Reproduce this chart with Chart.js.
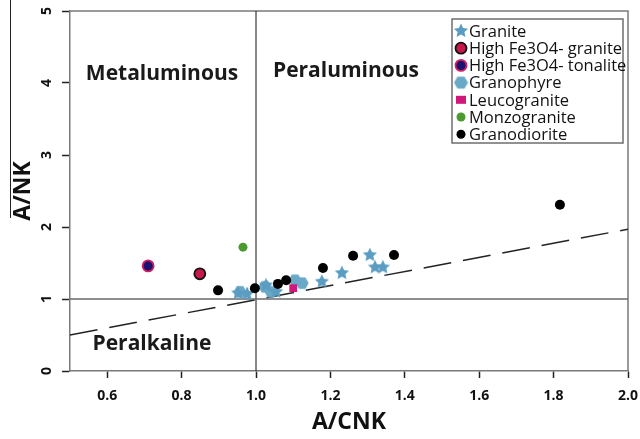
<!DOCTYPE html>
<html><head><meta charset="utf-8">
<script src="https://cdn.jsdelivr.net/npm/chart.js@4.4.1/dist/chart.umd.min.js"></script>
<style>html,body{margin:0;padding:0;background:#fff}#wrap{width:640px;height:439px}</style>
</head><body><div id="wrap"><canvas id="c" width="640" height="439"></canvas></div>
<script>
const seriesNames = ["Granite","High Fe3O4- granite","High Fe3O4- tonalite","Granophyre","Leucogranite","Monzogranite","Granodiorite"];
const graniteX = [0.952,0.976,1.027,1.054,1.177,1.231,1.306,1.320,1.341];
const graniteY = [1.08,1.07,1.19,1.10,1.24,1.36,1.61,1.44,1.44];
const hiFeGraniteX = [0.849];
const hiFeGraniteY = [1.35];
const hiFeTonaliteX = [0.71];
const hiFeTonaliteY = [1.46];
const granophyreX = [0.957,1.024,1.04,1.105,1.124];
const granophyreY = [1.10,1.17,1.10,1.26,1.22];
const leucograniteX = [1.10];
const leucograniteY = [1.15];
const monzograniteX = [0.965];
const monzograniteY = [1.72];
const granodioriteX = [0.898,0.997,1.059,1.081,1.180,1.261,1.371,1.817];
const granodioriteY = [1.12,1.15,1.21,1.26,1.43,1.60,1.61,2.31];
const dividerLineX = [0.5,2.0];
const dividerLineY = [0.5,1.97];
const xTicks = [0.6,0.8,1.0,1.2,1.4,1.6,1.8,2.0];
const yTicks = [0,1,2,3,4,5];

function pts(xs,ys){return xs.map((x,i)=>({x:x,y:ys[i]}));}

function makeStar(size,color){
  const c=document.createElement('canvas');c.width=size;c.height=size;
  const g=c.getContext('2d');const r=size/2,ri=r*0.45;
  g.beginPath();
  for(let i=0;i<10;i++){const a=-Math.PI/2+i*Math.PI/5;const rr=i%2?ri:r-0.5;
    g.lineTo(r+rr*Math.cos(a),r+rr*Math.sin(a));}
  g.closePath();g.fillStyle=color;g.fill();return c;
}
function makeHex(size,color){
  const c=document.createElement('canvas');c.width=size;c.height=size;
  const g=c.getContext('2d');const r=size/2;
  g.beginPath();
  for(let i=0;i<6;i++){const a=i*Math.PI/3;g.lineTo(r+(r-0.5)*Math.cos(a),r+(r-0.5)*Math.sin(a));}
  g.closePath();g.fillStyle=color;g.fill();return c;
}
const BLUE='#5b9dc2';
const starImg=makeStar(16,BLUE);
const hexImg=makeHex(14,'#6aa8c8');
const legStar=makeStar(16,BLUE);
const legHex=makeHex(15,'#6aa8c8');

const FONT='"Open Sans", "DejaVu Sans", sans-serif';

const overlay={
  id:'overlay',
  beforeDatasetsDraw(chart){
    const {ctx,chartArea:a}=chart;
    ctx.save();
    ctx.strokeStyle='#7a7a7a';ctx.lineWidth=1.5;
    ctx.beginPath();ctx.moveTo(a.left,a.top);ctx.lineTo(a.right,a.top);ctx.lineTo(a.right,a.bottom);ctx.stroke();
    ctx.strokeStyle='#222';ctx.lineWidth=1;
    ctx.beginPath();ctx.moveTo(10.5,0);ctx.lineTo(10.5,218);ctx.stroke();
    ctx.fillStyle='#1a1a1a';ctx.font='bold 21px '+FONT;ctx.textAlign='center';ctx.textBaseline='middle';
    ctx.fillText('Metaluminous',162,74);
    ctx.fillText('Peraluminous',346,71);
    ctx.fillText('Peralkaline',152,344);
    ctx.restore();
  },
  afterDraw(chart){
    const ctx=chart.ctx;
    ctx.save();
    ctx.fillStyle='#fff';ctx.fillRect(452,19,171,124);
    ctx.strokeStyle='#6e6e6e';ctx.lineWidth=1.5;ctx.strokeRect(452,19,171,124);
    ctx.font='16.5px '+FONT;ctx.textBaseline='middle';ctx.textAlign='left';ctx.fillStyle='#111';
    const y0=31, dy=17.2, mx=461, tx=469;
    seriesNames.forEach((n,i)=>{
      const y=y0+i*dy;
      if(i===0){ctx.drawImage(legStar,mx-8,y-8);}
      else if(i===1){ctx.beginPath();ctx.arc(mx,y,5.5,0,Math.PI*2);ctx.fillStyle='#c8174a';ctx.fill();ctx.lineWidth=1.8;ctx.strokeStyle='#111';ctx.stroke();}
      else if(i===2){ctx.beginPath();ctx.arc(mx,y,5.5,0,Math.PI*2);ctx.fillStyle='#1c1070';ctx.fill();ctx.lineWidth=1.8;ctx.strokeStyle='#d02060';ctx.stroke();}
      else if(i===3){ctx.drawImage(legHex,mx-7.5,y-7.5);}
      else if(i===4){ctx.fillStyle='#d0187a';ctx.fillRect(mx-5,y-4,10,8);}
      else if(i===5){ctx.beginPath();ctx.arc(mx,y,4.5,0,Math.PI*2);ctx.fillStyle='#4a9a30';ctx.fill();}
      else {ctx.beginPath();ctx.arc(mx,y,4.5,0,Math.PI*2);ctx.fillStyle='#000';ctx.fill();}
      ctx.fillStyle='#111';
      ctx.fillText(n,tx,y+1);
    });
    ctx.restore();
  }
};

const chart=new Chart(document.getElementById('c'),{
  type:'scatter',
  data:{datasets:[
    {type:'line',data:pts([0.5,2.0],[1,1]),borderColor:'#6a6a6a',borderWidth:1.5,pointRadius:0,order:10},
    {type:'line',data:pts([1,1],[0,5]),borderColor:'#111',borderWidth:1,pointRadius:0,order:10},
    {type:'line',data:pts(dividerLineX,dividerLineY),borderColor:'#222',borderWidth:1.5,borderDash:[28,12],pointRadius:0,order:10},
    {label:seriesNames[6],data:pts(granodioriteX,granodioriteY),backgroundColor:'#000',borderColor:'#000',pointRadius:5,pointBorderWidth:0,order:1},
    {label:seriesNames[0],data:pts(graniteX,graniteY),pointStyle:starImg,order:2},
    {label:seriesNames[3],data:pts(granophyreX,granophyreY),pointStyle:hexImg,order:3},
    {label:seriesNames[4],data:pts(leucograniteX,leucograniteY),pointStyle:'rect',backgroundColor:'#d0187a',borderColor:'#d0187a',pointRadius:5.5,pointBorderWidth:0,order:0},
    {label:seriesNames[1],data:pts(hiFeGraniteX,hiFeGraniteY),backgroundColor:'#c8174a',borderColor:'#111',pointRadius:5.5,pointBorderWidth:1.8,order:0},
    {label:seriesNames[2],data:pts(hiFeTonaliteX,hiFeTonaliteY),backgroundColor:'#1c1070',borderColor:'#d02060',pointRadius:5.5,pointBorderWidth:1.8,order:0},
    {label:seriesNames[5],data:pts(monzograniteX,monzograniteY),backgroundColor:'#4a9a30',borderColor:'#4a9a30',pointRadius:4.5,pointBorderWidth:0,order:0}
  ]},
  options:{
    responsive:false,animation:false,
    layout:{padding:{top:11,right:12,left:0,bottom:0}},
    plugins:{legend:{display:false},tooltip:{enabled:false}},
    scales:{
      x:{type:'linear',min:0.5,max:2.0,
        afterBuildTicks(s){s.ticks=xTicks.map(v=>({value:v}));},
        afterFit(s){s.height=68;s.paddingLeft=0;s.paddingRight=0;},
        border:{color:'#7a7a7a',width:1.5},
        grid:{drawOnChartArea:false,color:'#222',tickLength:7,tickWidth:1.5},
        ticks:{color:'#111',font:{family:FONT,weight:'bold',size:14},padding:10,callback:v=>Number(v).toFixed(1),maxRotation:0},
        title:{display:true,text:'A/CNK',color:'#111',font:{family:FONT,weight:'bold',size:23},padding:{top:0,bottom:3}}
      },
      y:{type:'linear',min:0,max:5,
        afterBuildTicks(s){s.ticks=yTicks.map(v=>({value:v}));},
        afterFit(s){s.width=70;s.paddingTop=0;s.paddingBottom=0;},
        border:{color:'#7a7a7a',width:1.5},
        grid:{drawOnChartArea:false,color:'#222',tickLength:8,tickWidth:1.5},
        ticks:{color:'#111',font:{family:FONT,weight:'bold',size:14},padding:11,crossAlign:'center',minRotation:90,maxRotation:90},
        title:{display:true,text:'A/NK',color:'#111',font:{family:FONT,weight:'bold',size:23},padding:{top:10,bottom:0}}
      }
    }
  },
  plugins:[overlay]
});
</script></body></html>
